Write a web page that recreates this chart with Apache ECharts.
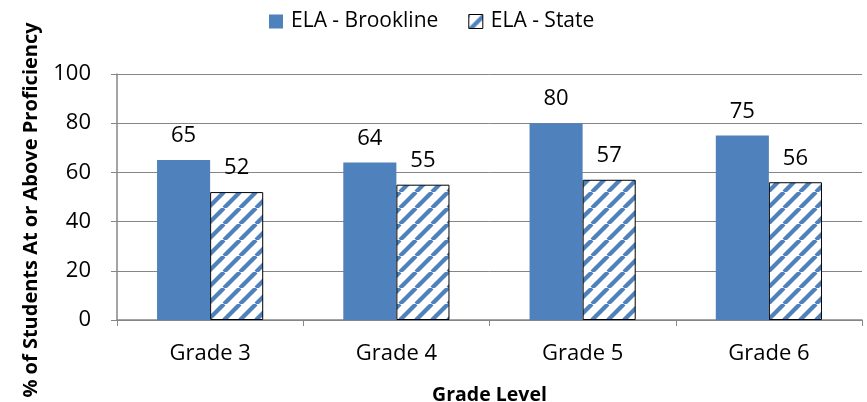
<!DOCTYPE html>
<html><head><meta charset="utf-8">
<script src="https://cdn.jsdelivr.net/npm/echarts@6/dist/echarts.min.js"></script>
<style>html,body{margin:0;padding:0;background:#fff}#c{width:867px;height:402px}</style>
</head><body><div id="c"></div>
<script>
const categories = ['Grade 3', 'Grade 4', 'Grade 5', 'Grade 6'];
const brookline = [65, 64, 80, 75];
const state = [52, 55, 57, 56];
const yTicks = [0, 20, 40, 60, 80, 100];

function stripePattern() {
  const s = 16;
  const c = document.createElement('canvas');
  c.width = s; c.height = s;
  const ctx = c.getContext('2d');
  ctx.fillStyle = '#fff';
  ctx.fillRect(0, 0, s, s);
  ctx.strokeStyle = '#4f81bd';
  ctx.lineWidth = 4.2;
  for (let k = -1; k <= 1; k++) {
    ctx.beginPath();
    ctx.moveTo(k * s, s);
    ctx.lineTo(k * s + s, 0);
    ctx.stroke();
  }
  return c;
}

const font = '"Open Sans", sans-serif';
const chart = echarts.init(document.getElementById('c'));
chart.setOption({
  animation: false,
  textStyle: { fontFamily: font },
  legend: {
    top: 6, left: 264, itemWidth: 14, itemHeight: 14, itemGap: 30, icon: 'rect',
    textStyle: { fontSize: 21, color: '#000', fontFamily: font, padding: [0, 0, 0, 3] },
    data: [
      { name: 'ELA - Brookline', icon: 'rect' },
      { name: 'ELA - State', icon: 'rect', itemStyle: { color: { image: stripePattern(), repeat: 'repeat' }, borderColor: '#000', borderWidth: 1 } }
    ]
  },
  grid: { left: 117, right: 5, top: 74, bottom: 82, outerBoundsMode: 'none', containLabel: false },
  xAxis: {
    type: 'category', data: categories,
    name: 'Grade Level', nameLocation: 'middle', nameGap: 65,
    nameTextStyle: { fontSize: 19.5, fontWeight: 'bold', color: '#000', fontFamily: font },
    axisLine: { lineStyle: { color: '#868686', width: 1.5 } },
    axisTick: { show: true, inside: false, length: 6, lineStyle: { color: '#868686' } },
    axisLabel: { fontSize: 22, color: '#000', margin: 23, fontFamily: font }
  },
  yAxis: {
    type: 'value', min: 0, max: 100, interval: 20,
    name: '% of Students At or Above Proficiency', nameLocation: 'middle', nameGap: 76,
    nameTextStyle: { fontSize: 20, fontWeight: 'bold', color: '#000', fontFamily: font, padding: [0, 26, 0, 0] },
    axisLine: { show: true, lineStyle: { color: '#868686', width: 1.5 } },
    axisTick: { show: true, length: 6, lineStyle: { color: '#868686' } },
    axisLabel: { fontSize: 22, color: '#000', margin: 26, fontFamily: font,
      formatter: v => yTicks.includes(v) ? String(v) : '' },
    splitLine: { lineStyle: { color: '#868686', width: 1 } }
  },
  series: [
    {
      name: 'ELA - Brookline', type: 'bar', data: brookline,
      barWidth: '28.5%', barGap: '0%',
      itemStyle: { color: '#4f81bd' },
      label: { show: true, position: 'top', distance: 13, fontSize: 22, color: '#000', fontFamily: font }
    },
    {
      name: 'ELA - State', type: 'bar', data: state,
      barWidth: '28.5%',
      itemStyle: { color: { image: stripePattern(), repeat: 'repeat' }, borderColor: '#000', borderWidth: 1 },
      label: { show: true, position: 'top', distance: 13, fontSize: 22, color: '#000', fontFamily: font }
    }
  ]
});
</script></body></html>
